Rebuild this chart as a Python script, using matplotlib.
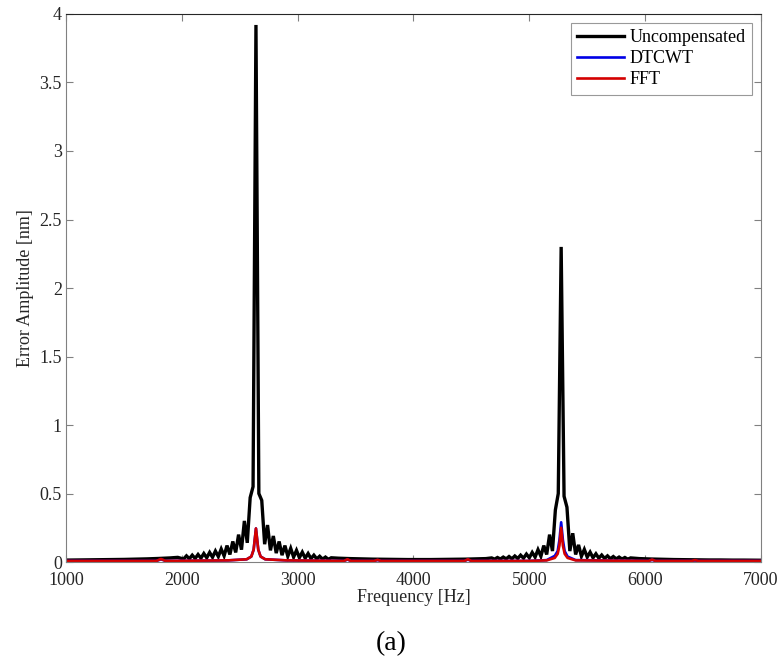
import numpy as np
import matplotlib
matplotlib.use("Agg")
import matplotlib.pyplot as plt

plt.rcParams['font.family'] = ['Liberation Serif', 'DejaVu Serif']
plt.rcParams['mathtext.fontset'] = 'stix'

# ---- data ----
# black curve (uncompensated), tails sampled coarse, peaks on a 25 Hz grid
tail1_f = [1000, 1100, 1200, 1300, 1400, 1500, 1600, 1700, 1800, 1900, 1965]
tail1_a = [0.014, 0.015, 0.016, 0.017, 0.018, 0.019, 0.021, 0.023, 0.026, 0.030, 0.034]

peak1_start = 2015
peak1_a = [0.022, 0.045, 0.024, 0.050, 0.026, 0.055, 0.028, 0.062, 0.031, 0.070,
           0.035, 0.080, 0.040, 0.095, 0.045, 0.120, 0.055, 0.150, 0.070, 0.200,
           0.090, 0.300, 0.140, 0.470, 0.550,
           3.920,
           0.500, 0.450, 0.130, 0.270, 0.085, 0.190, 0.065, 0.150, 0.050, 0.120,
           0.042, 0.100, 0.036, 0.085, 0.032, 0.072, 0.028, 0.062, 0.025, 0.050,
           0.023, 0.042, 0.021, 0.036, 0.020, 0.031]

mid_f = [3350, 3450, 3550, 3650, 3750, 3850, 3950, 4050, 4150, 4250, 4350, 4450, 4550, 4625]
mid_a = [0.028, 0.025, 0.023, 0.021, 0.020, 0.019, 0.018, 0.018, 0.018, 0.019,
         0.020, 0.021, 0.023, 0.025]

peak2_start = 4675
peak2_a = [0.030, 0.021, 0.033, 0.022, 0.036, 0.023, 0.040, 0.024, 0.044, 0.026,
           0.050, 0.028, 0.058, 0.031, 0.070, 0.036, 0.090, 0.042, 0.120, 0.055,
           0.200, 0.080, 0.380, 0.500,
           2.300,
           0.480, 0.400, 0.080, 0.210, 0.055, 0.125, 0.042, 0.092, 0.036, 0.072,
           0.031, 0.060, 0.028, 0.051, 0.026, 0.045, 0.024, 0.040, 0.023, 0.036,
           0.022, 0.033, 0.021, 0.030]

tail2_f = [5950, 6050, 6150, 6250, 6350, 6450, 6550, 6650, 6750, 6850, 6950, 7000]
tail2_a = [0.025, 0.022, 0.020, 0.018, 0.017, 0.016, 0.015, 0.015, 0.014, 0.014, 0.013, 0.013]

# red curve (FFT compensation)
fft_f = [1000, 1780, 1820, 1860, 2400, 2560, 2600, 2620, 2640, 2660, 2680, 2720, 2900,
         3400, 3430, 3460, 3660, 3690, 3720, 4000, 4440, 4470, 4500, 5000, 5150, 5220,
         5245, 5260, 5275, 5290, 5305, 5330, 5400, 6030, 6060, 6090, 6400, 6430, 6460, 7000]
fft_a = [0.008, 0.008, 0.022, 0.008, 0.012, 0.020, 0.040, 0.090, 0.245, 0.090, 0.040, 0.020, 0.012,
         0.008, 0.020, 0.008, 0.008, 0.016, 0.008, 0.008, 0.008, 0.020, 0.008, 0.008, 0.012, 0.030,
         0.060, 0.120, 0.250, 0.120, 0.060, 0.030, 0.012, 0.008, 0.018, 0.008, 0.008, 0.014, 0.008, 0.008]

# blue curve (DTCWT), mostly hidden under the red one
dtcwt_a = [0.008, 0.008, 0.020, 0.008, 0.012, 0.020, 0.040, 0.090, 0.245, 0.090, 0.040, 0.020, 0.012,
           0.008, 0.018, 0.008, 0.008, 0.015, 0.008, 0.008, 0.008, 0.018, 0.008, 0.008, 0.014, 0.045,
           0.080, 0.160, 0.290, 0.160, 0.080, 0.040, 0.014, 0.008, 0.016, 0.008, 0.008, 0.013, 0.008, 0.008]

peak1_f = peak1_start + 25 * np.arange(len(peak1_a))
peak2_f = peak2_start + 25 * np.arange(len(peak2_a))
unc_f = np.concatenate([tail1_f, peak1_f, mid_f, peak2_f, tail2_f])
unc_a = np.concatenate([tail1_a, peak1_a, mid_a, peak2_a, tail2_a])

fig = plt.figure(figsize=(7.82, 6.63), dpi=100)
ax = fig.add_axes([0.0844, 0.1523, 0.8887, 0.8266])

ax.plot(unc_f, unc_a, color='black', lw=2.4, label='Uncompensated', solid_joinstyle='miter')
ax.plot(fft_f, dtcwt_a, color='#0000e6', lw=1.9, label='DTCWT')
ax.plot(fft_f, fft_a, color='#d40000', lw=1.9, label='FFT')

ax.set_xlim(1000, 7000)
ax.set_ylim(0, 4)
ax.set_xticks([1000, 2000, 3000, 4000, 5000, 6000, 7000])
ax.set_yticks([0, 0.5, 1, 1.5, 2, 2.5, 3, 3.5, 4])
ax.set_yticklabels(['0', '0.5', '1', '1.5', '2', '2.5', '3', '3.5', '4'])
ax.tick_params(direction='in', length=5, width=0.8, top=True, right=True,
               labelsize=13, colors='#262626', color='#808080')
ax.tick_params(axis='x', pad=7)
ax.tick_params(axis='y', pad=3)
for side in ['left', 'right', 'bottom']:
    ax.spines[side].set_color('#808080')
ax.spines['top'].set_color('#262626')

ax.set_xlabel('Frequency [Hz]', fontsize=13, color='#262626', labelpad=0)
ax.set_ylabel('Error Amplitude [nm]', fontsize=13, color='#262626', labelpad=4)

leg = ax.legend(loc='upper right', fontsize=13, frameon=True, fancybox=False,
                edgecolor='#808080', handlelength=2.6, handletextpad=0.3,
                labelspacing=0.22, borderpad=0.35, borderaxespad=0.5)
leg.get_frame().set_linewidth(0.8)

fig.text(0.5, 0.03, '(a)', ha='center', va='center', fontsize=20)

fig.savefig('out.png', dpi=100)
